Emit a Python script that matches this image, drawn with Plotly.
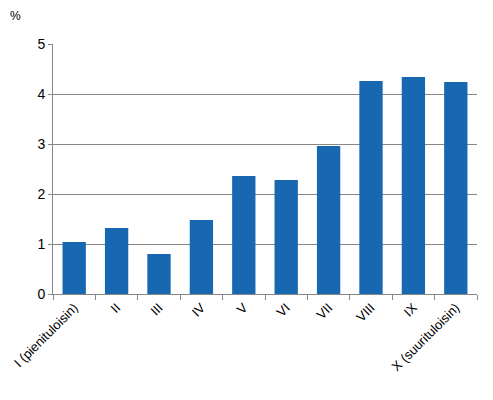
import plotly.graph_objects as go

categories = ["I (pienituloisin)", "II", "III", "IV", "V", "VI", "VII", "VIII", "IX", "X (suurituloisin)"]
values = [1.04, 1.32, 0.80, 1.48, 2.36, 2.28, 2.96, 4.26, 4.34, 4.24]
y_ticks = [0, 1, 2, 3, 4, 5]

fig = go.Figure(go.Bar(x=categories, y=values, marker=dict(color="#1767b1", line=dict(width=0))))

fig.update_layout(
    width=485, height=392,
    margin=dict(l=45, r=16, t=36, b=106),
    paper_bgcolor="white", plot_bgcolor="white",
    bargap=0.45,
    showlegend=False,
    font=dict(family="Liberation Sans, Arial, sans-serif", size=13, color="black"),
    annotations=[dict(text="%", xref="paper", yref="paper", x=-0.088, y=1.11,
                      xanchor="center", yanchor="middle", showarrow=False,
                      font=dict(size=12, color="black"))],
)
fig.update_xaxes(
    type="category", tickangle=-45, ticks="outside", tickson="boundaries",
    ticklen=5, tickcolor="#868686", showline=True, linecolor="#868686", linewidth=1,
    showgrid=False, tickfont=dict(size=13, color="black"), automargin=False,
)
fig.update_yaxes(
    range=[0, 5], tickvals=y_ticks, ticks="outside", ticklen=4, tickcolor="#868686",
    showline=True, linecolor="#868686", linewidth=1,
    showgrid=True, gridcolor="#868686", gridwidth=1, zeroline=False,
    tickfont=dict(size=14, color="black"), automargin=False,
)

fig.write_html("out.html")
